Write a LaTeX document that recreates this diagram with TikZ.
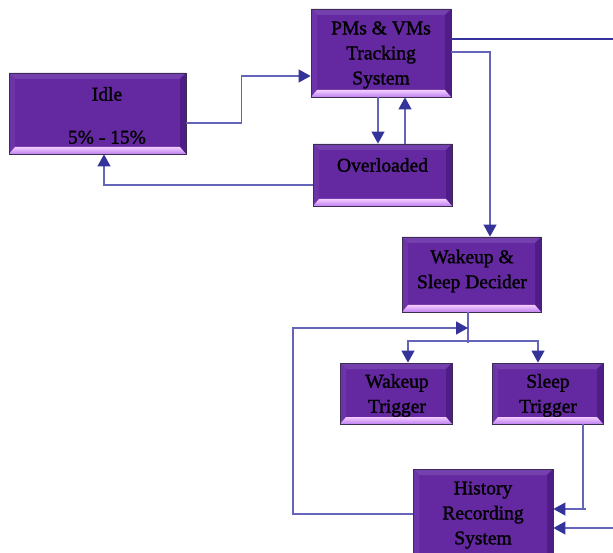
\documentclass[tikz,border=0pt]{standalone}
\usepackage{fontspec}
\setmainfont{Liberation Serif}
\newfontfamily\boxfont{Liberation Serif}[FakeBold=1.5]
\usetikzlibrary{arrows.meta,calc}

\definecolor{face}{HTML}{6428A0}
\definecolor{bevtop}{HTML}{7440AE}
\definecolor{bevleft}{HTML}{6C34A8}
\definecolor{bevright}{HTML}{4E1E86}
\definecolor{bevlow}{HTML}{C080F0}
\definecolor{bevhigh}{HTML}{F2CCFF}
\definecolor{rim}{HTML}{3C2E52}
\definecolor{wire}{HTML}{6464B8}
\definecolor{wiredark}{HTML}{34349C}
\definecolor{tip}{HTML}{333399}

\tikzset{
  bevelbox/.style={
    draw=rim, line width=0.8pt, inner sep=0pt,
    path picture={
      \coordinate (A) at (path picture bounding box.south west);
      \coordinate (B) at (path picture bounding box.north east);
      \coordinate (C) at (path picture bounding box.north west);
      \coordinate (D) at (path picture bounding box.south east);
      \fill[face] (A) rectangle (B);
      \fill[bevtop] (C) -- (B) -- ([shift={(-6pt,-6pt)}]B) -- ([shift={(6pt,-6pt)}]C) -- cycle;
      \fill[bevleft] (C) -- ([shift={(6pt,-6pt)}]C) -- ([shift={(6pt,6pt)}]A) -- (A) -- cycle;
      \fill[bevright] (B) -- (D) -- ([shift={(-6pt,6pt)}]D) -- ([shift={(-6pt,-6pt)}]B) -- cycle;
      \shade[top color=bevhigh, bottom color=bevlow] (A) -- (D) -- ([shift={(-6pt,7pt)}]D) -- ([shift={(6pt,7pt)}]A) -- cycle;
    }},
  boxtext/.style={font=\boxfont\fontsize{19.5}{25}\selectfont, align=center, text=black, inner sep=0pt},
  wireline/.style={draw=wire, line width=1.1pt},
  flow/.style={wireline, -{Triangle[length=12pt,width=13pt,color=tip]}},
}

\begin{document}
\begin{tikzpicture}[x=1pt,y=-1pt]
\useasboundingbox (0,0) rectangle (613,553);
\fill[white] (0,0) rectangle (613,553);

% boxes
\node[bevelbox, minimum width=177pt, minimum height=81pt] (idle) at (97.5,113.5) {};
\node[bevelbox, minimum width=140pt, minimum height=88pt] (pms) at (381,53) {};
\node[bevelbox, minimum width=139pt, minimum height=62pt] (ovl) at (382.5,175) {};
\node[bevelbox, minimum width=139pt, minimum height=75pt] (dec) at (471.5,274.5) {};
\node[bevelbox, minimum width=112pt, minimum height=61pt] (wak) at (396,393.5) {};
\node[bevelbox, minimum width=111pt, minimum height=61pt] (slp) at (547.5,393.5) {};
\node[bevelbox, minimum width=140pt, minimum height=92pt] (hist) at (483,515) {};

% labels
\node[boxtext] (idleT) at (107,115.5) {Idle\\[18pt]5\% - 15\%};
\node[boxtext] (pmsT) at (381,55) {PMs \& VMs\\Tracking\\System};
\node[boxtext] (ovlT) at (382.5,165) {Overloaded};
\node[boxtext] (decT) at (472,271) {Wakeup \&\\Sleep Decider};
\node[boxtext] (wakT) at (397,395.5) {Wakeup\\Trigger};
\node[boxtext] (slpT) at (548,395.5) {Sleep\\Trigger};
\node[boxtext] (histT) at (483,515) {History\\Recording\\System};

% free ends and junctions
\coordinate (outR) at (613,39);
\coordinate (inR) at (613,528);
\coordinate (split) at (468,341);
\coordinate (fb) at (293,328);

% connectors
\draw[flow] ([yshift=-9.5pt]idle.east) -- ++(55,0) |- ([yshift=-23pt]pms.west);
\draw[flow] ([xshift=-3pt]pms.south) -- ([xshift=-3pt]pms.south |- ovl.north);
\draw[flow] ([xshift=24pt]pms.south |- ovl.north) -- ([xshift=24pt]pms.south);
\draw[flow] ([yshift=-10pt]ovl.west) -| ([xshift=6.5pt]idle.south);
\draw[draw=wiredark, line width=1.8pt] ([yshift=14pt]pms.east) -- (outR);
\draw[flow] ([yshift=1pt]pms.east) -| ([xshift=18.5pt]dec.north);
\draw[wireline] ([xshift=-3.5pt]dec.south) -- ([yshift=-2pt]split);
\draw[flow] (split) -| ([xshift=12pt]wak.north);
\draw[flow] (split) -| ([xshift=-9.5pt]slp.north);
\draw[flow] ([yshift=1pt]hist.west) -| (fb) -- ([yshift=13pt]split);
\draw[flow] ([xshift=35.5pt]slp.south) |- ([yshift=6pt]hist.east);
\draw[wireline] ([xshift=35.5pt,yshift=6pt]slp.south |- hist.east) -- ++(2.5,0);
\draw[flow] (inR) -- ([yshift=-13pt]hist.east);
\end{tikzpicture}
\end{document}
